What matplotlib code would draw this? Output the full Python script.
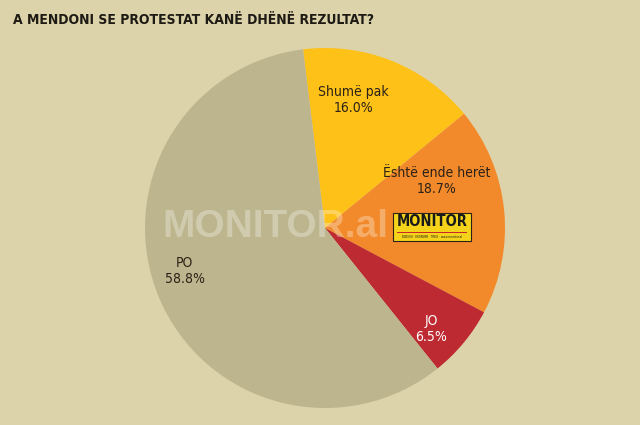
import matplotlib.pyplot as plt
from matplotlib.patches import Rectangle

labels = ['Shumë pak', 'Është ende herët', 'JO', 'PO']
values = [16.0, 18.7, 6.5, 58.8]
colors = ['#FDC118', '#F28A2B', '#BE2A31', '#BDB58D']
text_colors = ['#2B2118', '#2B2118', '#FFFFFF', '#2B2118']
label_pos = [(0.16, 0.71), (0.62, 0.26), (0.59, -0.56), (-0.78, -0.24)]

bg = '#DCD3AB'
narrow = ['DejaVu Sans']

fig = plt.figure(figsize=(6.4, 4.25), dpi=100, facecolor=bg)
ax = fig.add_axes([145 / 640, 17 / 425, 360 / 640, 360 / 425])
ax.set_facecolor(bg)
ax.pie(values, colors=colors, startangle=97, counterclock=False,
       radius=1, wedgeprops={'linewidth': 0})
ax.set_xlim(-1, 1)
ax.set_ylim(-1, 1)
ax.set_aspect('equal')
ax.axis('off')

for lab, v, c, (x, y) in zip(labels, values, text_colors, label_pos):
    ax.text(x, y, f'{lab}\n{v:.1f}%', ha='center', va='center', fontsize=10,
            color=c, family=narrow, stretch='condensed', linespacing=1.15)

# watermark
fig.text(275 / 640, 1 - 227 / 425, 'MONITOR.al', ha='center', va='center',
         fontsize=28, fontweight='bold', color='white', alpha=0.3,
         family=['Liberation Sans', 'DejaVu Sans'])

# logo
fig.patches.append(Rectangle((393 / 640, 1 - 241 / 425), 78 / 640, 28 / 425,
                             transform=fig.transFigure, facecolor='#F5D31A',
                             edgecolor='#2B2118', linewidth=0.8))
fig.text(432 / 640, 1 - 222 / 425, 'MONITOR', ha='center', va='center',
         fontsize=10.5, fontweight='heavy', color='#1A1A1A', family=narrow,
         stretch='condensed')
fig.patches.append(Rectangle((397 / 640, 1 - 233 / 425), 70 / 640, 1.5 / 425,
                             transform=fig.transFigure, facecolor='#C8262C',
                             linewidth=0))
fig.text(432 / 640, 1 - 237 / 425, 'BIZNESI · EKONOMI · TREG · www.monitor.al',
         ha='center', va='center', fontsize=2.0, color='#1A1A1A')

fig.text(13 / 640, 1 - 20 / 425, 'A MENDONI SE PROTESTAT KANË DHËNË REZULTAT?',
         ha='left', va='center', fontsize=10, fontweight='heavy', color='#1E1A14',
         family=narrow, stretch='condensed')

fig.savefig('out.png', dpi=100, facecolor=bg)
